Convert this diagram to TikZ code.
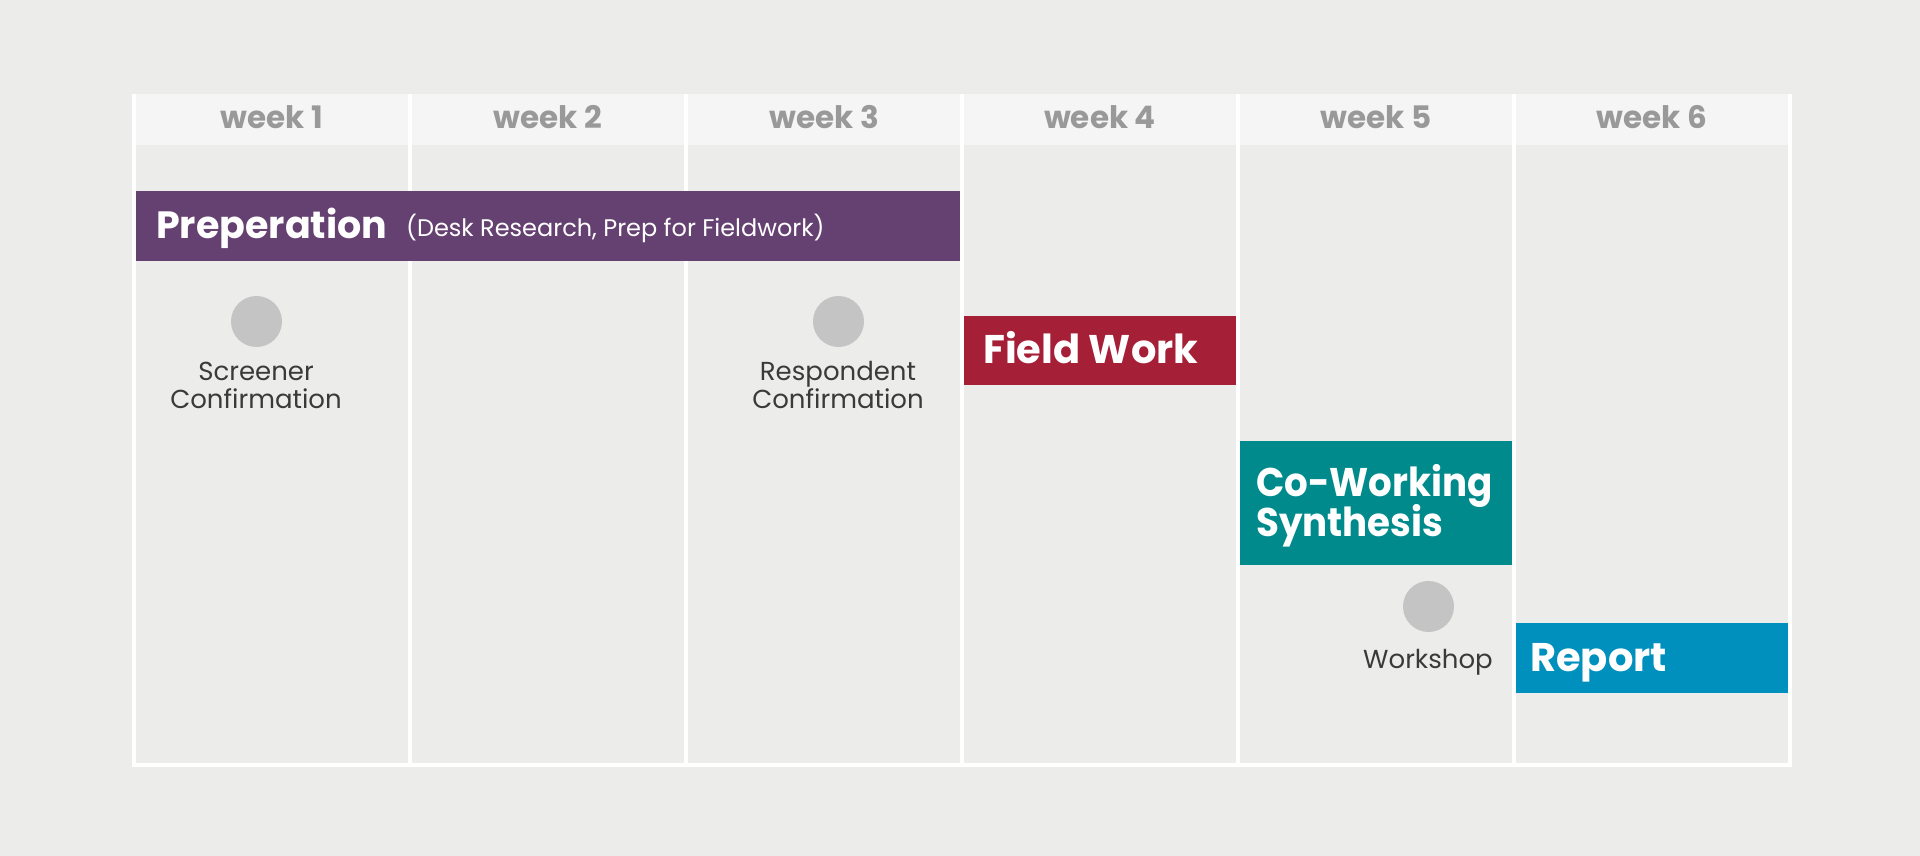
\documentclass[tikz,border=0pt]{standalone}
\usepackage{fontspec}
\setmainfont{Poppins}
\definecolor{bgc}{HTML}{ECECEA}
\definecolor{hdr}{HTML}{F5F5F5}
\definecolor{hdrtxt}{HTML}{999999}
\definecolor{lbl}{HTML}{3A3A3A}
\definecolor{dot}{HTML}{C4C4C4}
\definecolor{prepc}{HTML}{654171}
\definecolor{fieldc}{HTML}{A51F37}
\definecolor{synthc}{HTML}{008A8C}
\definecolor{reportc}{HTML}{0090BE}
\tikzset{
  bar/.style={rectangle, draw=none, inner sep=0pt, anchor=north west},
  bigtxt/.style={text=white, inner sep=0pt, anchor=base west, font=\fontsize{40}{40}\selectfont\bfseries},
  smalltxt/.style={text=white, inner sep=0pt, anchor=base west, font=\fontsize{24}{24}\selectfont},
  weektxt/.style={text=hdrtxt, inner sep=0pt, anchor=base, font=\fontsize{31}{31}\selectfont\bfseries},
  milestone/.style={circle, fill=dot, minimum size=51pt, inner sep=0pt},
  mlabel/.style={text=lbl, inner sep=0pt, anchor=base, align=center, font=\fontsize{26}{28}\selectfont},
  gridline/.style={white, line width=4pt}
}
\begin{document}
\begin{tikzpicture}[x=1pt,y=-1pt]
\useasboundingbox (0,0) rectangle (1920,856);
\fill[bgc] (0,0) rectangle (1920,856);
% header row
\fill[hdr] (134,94) rectangle (1790,145);
% grid lines
\foreach \i/\x in {0/134,1/410,2/686,3/962,4/1238,5/1514,6/1790}{
  \coordinate (t\i) at (\x,94);
  \coordinate (b\i) at (\x,765);
  \draw[gridline] (t\i) -- (b\i);
}
\draw[gridline] ([xshift=-2pt]b0) -- ([xshift=2pt]b6);
% headers
\foreach \i/\x in {1/272,2/548,3/824,4/1100,5/1376,6/1652}{
  \node[weektxt] (w\i) at (\x,129) {week \i};
}
% bars
\node[bar, fill=prepc, minimum width=824pt, minimum height=70pt] (prep) at (136,191) {};
\node[bigtxt, font=\fontsize{38}{38}\selectfont\bfseries] (preptxt) at (156,238) {Preperation};
\node[smalltxt] (prepsub) at (406,236) {(Desk Research, Prep for Fieldwork)};

\node[bar, fill=fieldc, minimum width=272pt, minimum height=69pt] (field) at (964,316) {};
\node[bigtxt] (fieldtxt) at (983,363) {Field Work};

\node[bar, fill=synthc, minimum width=272pt, minimum height=124pt] (synth) at (1240,441) {};
\node[bigtxt] (synthtxt1) at (1256,496) {\scalebox{0.93}[1]{Co-Working}};
\node[bigtxt] (synthtxt2) at (1256,536) {\scalebox{0.93}[1]{Synthesis}};

\node[bar, fill=reportc, minimum width=272pt, minimum height=70pt] (report) at (1516,623) {};
\node[bigtxt] (reporttxt) at (1530,671) {Report};

% milestones
\node[milestone] (m1) at (256.5,321.5) {};
\node[mlabel] (m1l) at (256,408) {Screener\\Confirmation};
\node[milestone] (m2) at (838.5,321.5) {};
\node[mlabel] (m2l) at (838,408) {Respondent\\Confirmation};
\node[milestone] (m3) at (1428.5,606.5) {};
\node[mlabel] (m3l) at (1428,668) {Workshop};
\end{tikzpicture}
\end{document}
